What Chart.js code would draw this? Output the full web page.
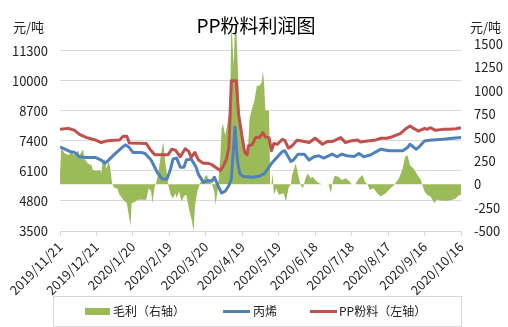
<!DOCTYPE html>
<html>
<head>
<meta charset="utf-8">
<script src="https://cdn.jsdelivr.net/npm/chart.js@4"></script>
<style>
  html, body { margin: 0; padding: 0; background: #fff; }
  #chart { display: block; }
</style>
</head>
<body>
<canvas id="chart" width="508" height="327"></canvas>
<script>
// day offsets from 2019/11/21
const START_DAY = Date.UTC(2019, 10, 21);

// 毛利 (right axis)
const profitDays = [
  0, 1, 4, 7, 9, 12, 15, 16, 19, 20,
  23, 26, 27, 30, 33, 34, 35, 37, 38, 40,
  41, 43, 45, 47, 49, 52, 55, 57, 58, 59,
  62, 64, 71, 73, 75, 76, 78, 79, 81, 83,
  85, 86, 89, 91, 93, 95, 96, 98, 100, 102,
  104, 106, 108, 110, 111, 113, 115, 117, 118, 119,
  121, 122, 125, 127, 128, 130, 132, 133, 134, 136,
  138, 140, 141, 143, 144, 145, 147, 148, 150, 151,
  153, 155, 156, 158, 160, 162, 164, 166, 167, 168,
  169, 172, 173, 174, 175, 176, 178, 180, 184, 186,
  188, 190, 191, 194, 196, 198, 200, 202, 204, 206,
  208, 210, 213, 216, 221, 223, 224, 226, 229, 232,
  235, 238, 240, 243, 246, 249, 251, 253, 255, 258,
  261, 264, 268, 272, 275, 276, 279, 282, 284, 286,
  288, 291, 294, 297, 298, 300, 302, 305, 308, 310,
  315, 319, 323, 326, 328, 330
];
const profit = [
  92, 389, 329, 312, 340, 312, 365, 312, 372, 276,
  223, 205, 152, 142, 152, 117, 241, 269, 170, 241,
  205, 0, -42, -42, -113, -166, -202, -361, -450, -202,
  -184, -166, -166, -42, -78, -202, -25, 0, 135, 312,
  453, 312, 0, -113, -149, -96, -149, -78, -184, -131,
  -113, -255, -361, -500, -237, -78, 0, 64, 0, 81,
  99, 46, 0, -78, -219, -42, 312, 595, 648, 524,
  666, 843, 1720, 1267, 1700, 1720, 1020, 715, 573, 418,
  300, 450, 700, 807, 896, 1055, 1055, 1090, 1214, 1070,
  789, 789, 0, 0, 117, -113, -42, -113, -96, -184,
  -42, 0, 99, 223, 99, -7, -42, 64, 117, 64,
  81, 46, 11, 0, 0, -96, 0, 92, 81, 46,
  64, 35, 0, 0, 64, 99, 28, 0, -60, -42,
  -96, -131, -96, -42, -7, 11, 64, 170, 294, 312,
  205, 170, 106, 46, 0, -78, -113, -131, -202, -166,
  -177, -177, -166, -149, -120, -113
];

// 丙烯 (left axis)
const propyleneDays = [
  0, 4, 8, 12, 16, 22, 29, 34, 37, 40,
  45, 51, 54, 57, 60, 67, 70, 75, 80, 84,
  88, 91, 93, 96, 99, 102, 104, 108, 112, 114,
  118, 122, 125, 127, 130, 133, 136, 139, 141, 144,
  146, 148, 151, 158, 163, 168, 170, 174, 179, 183,
  185, 190, 192, 196, 201, 205, 209, 213, 217, 224,
  228, 232, 236, 242, 246, 250, 256, 260, 264, 271,
  282, 286, 288, 293, 295, 300, 304, 315, 323, 330
];
const propylene = [
  7143, 7043, 6943, 6900, 6714, 6686, 6686, 6571, 6428, 6571,
  6828, 7114, 7228, 7114, 6900, 6900, 6857, 6571, 6043, 5757,
  5742, 6185, 6614, 6657, 6257, 6257, 6571, 6614, 6257, 5943,
  5614, 5685, 5657, 5828, 5471, 5143, 5228, 5471, 5757, 8000,
  6543, 5971, 5857, 5828, 5857, 5971, 6114, 6428, 6714, 6943,
  6971, 6514, 6571, 6828, 6828, 6571, 6714, 6757, 6657, 6828,
  6714, 6828, 6757, 6728, 6857, 6714, 6800, 6928, 7043, 6971,
  6971, 7114, 7257, 7043, 7114, 7400, 7428, 7471, 7514, 7543
];

// PP粉料 (left axis)
const ppDays = [
  0, 7, 12, 16, 22, 29, 34, 38, 44, 49,
  52, 55, 57, 64, 71, 74, 78, 84, 89, 92,
  95, 99, 103, 106, 108, 111, 114, 118, 122, 125,
  128, 132, 135, 137, 139, 141, 145, 147, 150, 152,
  154, 155, 158, 161, 164, 167, 169, 172, 174, 176,
  179, 183, 185, 188, 191, 195, 199, 205, 210, 216,
  220, 224, 231, 235, 239, 245, 247, 253, 260, 264,
  269, 273, 280, 284, 288, 291, 295, 300, 302, 305,
  309, 315, 320, 326, 330
];
const ppPowder = [
  7900, 7943, 7857, 7685, 7543, 7442, 7328, 7400, 7428, 7442,
  7600, 7600, 7314, 7300, 7286, 7042, 6800, 6800, 6800, 7042,
  7000, 6714, 7057, 6943, 6686, 6900, 6571, 6428, 6428, 6371,
  6257, 6114, 6371, 6614, 7114, 10000, 10000, 8543, 7543, 6900,
  6800, 7185, 7228, 7543, 7543, 7757, 7571, 7543, 6971, 7286,
  7257, 7471, 7428, 7086, 7185, 7428, 7400, 7328, 7514, 7257,
  7371, 7371, 7543, 7328, 7400, 7442, 7357, 7400, 7442, 7514,
  7514, 7571, 7714, 7900, 8043, 7943, 7828, 7943, 7900, 7971,
  7857, 7900, 7900, 7928, 7971
];

const TITLE = "PP粉料利润图";
const UNIT = "元/吨";
const CJK = '"Noto Sans CJK SC", "Noto Sans", sans-serif';
const TEXT = "#222";
const GRID = "#d9d9d9";

function dayLabel(n) {
  const d = new Date(START_DAY + n * 86400000);
  return `${d.getUTCFullYear()}/${d.getUTCMonth() + 1}/${d.getUTCDate()}`;
}

function points(xs, ys) {
  return xs.map((x, i) => ({ x, y: ys[i] }));
}

// title, unit captions and the boxed legend
const decorations = {
  id: "decorations",
  afterDraw(chart) {
    const ctx = chart.ctx;
    ctx.save();
    ctx.fillStyle = "#000";
    ctx.font = `19px ${CJK}`;
    ctx.textAlign = "center";
    ctx.textBaseline = "middle";
    ctx.fillText(TITLE, 256, 26);

    ctx.fillStyle = TEXT;
    ctx.font = `13px ${CJK}`;
    ctx.textAlign = "left";
    ctx.fillText(UNIT, 13, 27);
    ctx.fillText(UNIT, 470, 27);

    ctx.strokeStyle = GRID;
    ctx.lineWidth = 1;
    ctx.strokeRect(53.5, 296.5, 408, 30);

    const y = 311.5;
    ctx.font = `12px ${CJK}`;
    ctx.textBaseline = "middle";
    const ds = chart.data.datasets;
    // 毛利
    ctx.fillStyle = ds[0].backgroundColor;
    ctx.fillRect(85, 308, 25, 7);
    ctx.fillStyle = TEXT;
    ctx.fillText(ds[0].label, 113, y);
    // 丙烯
    ctx.strokeStyle = ds[1].borderColor;
    ctx.lineWidth = 3;
    ctx.beginPath();
    ctx.moveTo(223, y);
    ctx.lineTo(250, y);
    ctx.stroke();
    ctx.fillText(ds[1].label, 253, y);
    // PP粉料
    ctx.strokeStyle = ds[2].borderColor;
    ctx.beginPath();
    ctx.moveTo(310, y);
    ctx.lineTo(337, y);
    ctx.stroke();
    ctx.fillText(ds[2].label, 339, y);
    ctx.restore();
  },
};

new Chart(document.getElementById("chart"), {
  type: "line",
  data: {
    datasets: [
      {
        label: "毛利（右轴）",
        data: points(profitDays, profit),
        yAxisID: "yR",
        fill: "origin",
        backgroundColor: "#9bbb59",
        borderWidth: 0,
        pointRadius: 0,
        order: 3,
      },
      {
        label: "丙烯",
        data: points(propyleneDays, propylene),
        yAxisID: "yL",
        borderColor: "#4f81bd",
        borderWidth: 3,
        pointRadius: 0,
        fill: false,
        order: 2,
      },
      {
        label: "PP粉料（左轴）",
        data: points(ppDays, ppPowder),
        yAxisID: "yL",
        borderColor: "#c0504d",
        borderWidth: 3,
        pointRadius: 0,
        fill: false,
        order: 1,
      },
    ],
  },
  options: {
    responsive: false,
    devicePixelRatio: 1,
    animation: false,
    layout: { padding: { top: 19, bottom: 30, left: 0, right: 0 } },
    plugins: { legend: { display: false }, tooltip: { enabled: false } },
    elements: { line: { tension: 0, borderJoinStyle: "round" } },
    scales: {
      x: {
        type: "linear",
        min: 0,
        max: 330,
        afterFit: (s) => { s.height = 66; },
        grid: { drawOnChartArea: false, drawTicks: true, tickLength: 5, color: GRID },
        border: { color: GRID },
        ticks: {
          stepSize: 30,
          autoSkip: false,
          minRotation: 45,
          maxRotation: 45,
          padding: 3,
          color: TEXT,
          font: { size: 13, family: CJK },
          callback: (v) => dayLabel(v),
        },
      },
      yL: {
        position: "left",
        min: 3500,
        max: 12600,
        afterFit: (s) => { s.width = 60; },
        border: { display: false },
        grid: {
          drawTicks: false,
          color: (c) => (c.tick && c.tick.value === 12600 ? "rgba(0,0,0,0)" : GRID),
        },
        ticks: {
          stepSize: 1300,
          padding: 12,
          color: TEXT,
          font: { size: 13, family: CJK },
          callback: (v) => (v === 12600 ? "" : v),
        },
      },
      yR: {
        position: "right",
        min: -500,
        max: 1750,
        afterFit: (s) => { s.width = 47; },
        border: { display: false },
        grid: { display: false, drawTicks: false },
        ticks: {
          stepSize: 250,
          padding: 13,
          color: TEXT,
          font: { size: 13, family: CJK },
          callback: (v) => (v === 1750 ? "" : v),
        },
      },
    },
  },
  plugins: [decorations],
});
</script>
</body>
</html>
